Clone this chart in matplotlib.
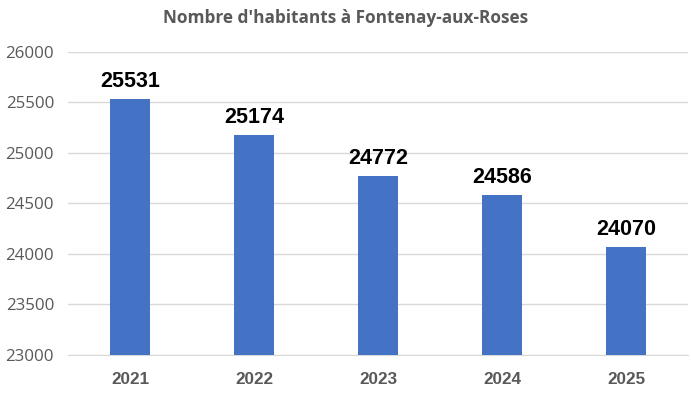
import matplotlib
matplotlib.use("Agg")
import matplotlib.pyplot as plt

years = ["2021", "2022", "2023", "2024", "2025"]
population = [25531, 25174, 24772, 24586, 24070]
yticks = [23000, 23500, 24000, 24500, 25000, 25500, 26000]
title = "Nombre d'habitants à Fontenay-aux-Roses"

fig = plt.figure(figsize=(6.91, 3.95), dpi=100)
ax = fig.add_axes([68/691, 40/395, 620/691, 303.3/395])

x = list(range(len(years)))
bars = ax.bar(x, population, width=0.315, color="#4472C4", zorder=3)
ax.set_xlim(-0.5, len(years) - 0.5)
ax.set_ylim(23000, 26000)
ax.set_yticks(yticks)
ax.set_yticklabels([str(v) for v in yticks], fontsize=12.2, color="#595959",
                   family="Open Sans")
ax.set_xticks(x)
ax.set_xticklabels(years, fontsize=12.3, color="#595959", fontweight="bold",
                   family="Liberation Sans")
ax.tick_params(axis="both", length=0)
ax.tick_params(axis="x", pad=12)
ax.tick_params(axis="y", pad=10)
ax.grid(axis="y", color="#D9D9D9", linewidth=1, zorder=0)
for s in ["top", "right", "left"]:
    ax.spines[s].set_visible(False)
ax.spines["bottom"].set_color("#D9D9D9")

for xi, v in zip(x, population):
    ax.annotate(str(v), (xi, v), xytext=(0, 5), textcoords="offset points",
                ha="center", va="bottom", fontsize=15.5, fontweight="bold",
                color="black", family="Liberation Sans")

fig.text(0.5, 1 - 18/395, title, ha="center", va="center", fontsize=12.4,
         fontweight="bold", color="#595959", family="Open Sans")

fig.savefig("out.png", dpi=100)
